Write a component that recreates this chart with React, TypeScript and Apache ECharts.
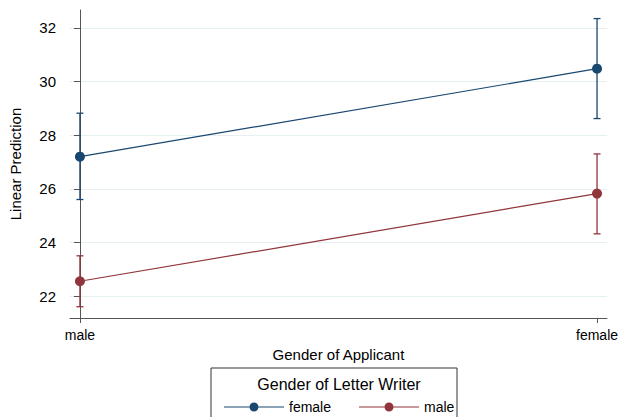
import React, { useEffect, useRef } from "react";
import * as echarts from "echarts";

const applicantGender = ["male", "female"];
const yTicks = [22, 24, 26, 28, 30, 32];
const femaleWriterMean = [27.2, 30.48];
const femaleWriterLow = [25.6, 28.62];
const femaleWriterHigh = [28.82, 32.35];
const maleWriterMean = [22.55, 25.82];
const maleWriterLow = [21.6, 24.32];
const maleWriterHigh = [23.5, 27.3];
const seriesNames = ["female", "male"];
const colors = ["#1a476f", "#90353b"];

const FONT = "Liberation Sans, Arial, Helvetica, sans-serif";

const legendIcon =
  "path://M0,4 H25.5 V5 H0 Z M34.5,4 H60 V5 H34.5 Z M25.5,4.5 A4.5,4.5 0 1,0 34.5,4.5 A4.5,4.5 0 1,0 25.5,4.5 Z";

function errorBarSeries(name: string, low: number[], high: number[], color: string) {
  return {
    type: "custom",
    name: name + "-ci",
    silent: true,
    data: applicantGender.map((_, i) => [i, low[i], high[i]]),
    encode: { x: 0, y: [1, 2] },
    z: 1,
    renderItem: (params: any, api: any) => {
      const x = api.value(0);
      const lo = api.coord([x, api.value(1)]);
      const hi = api.coord([x, api.value(2)]);
      const hw = 3.5;
      const style = { stroke: color, lineWidth: 1.3 };
      return {
        type: "group",
        children: [
          { type: "line", shape: { x1: lo[0], y1: lo[1], x2: hi[0], y2: hi[1] }, style },
          { type: "line", shape: { x1: lo[0] - hw, y1: lo[1], x2: lo[0] + hw, y2: lo[1] }, style },
          { type: "line", shape: { x1: hi[0] - hw, y1: hi[1], x2: hi[0] + hw, y2: hi[1] }, style },
        ],
      };
    },
  };
}

function lineSeries(name: string, mean: number[], color: string) {
  return {
    type: "line",
    name,
    data: applicantGender.map((_, i) => [i, mean[i]]),
    symbol: "circle",
    symbolSize: 10,
    itemStyle: { color },
    lineStyle: { color, width: 1.2 },
    z: 2,
  };
}

export default function App() {
  const ref = useRef<HTMLDivElement>(null);
  useEffect(() => {
    if (!ref.current) return;
    const chart = echarts.init(ref.current, undefined, { renderer: "svg" });
    chart.setOption({
      animation: false,
      backgroundColor: "#ffffff",
      textStyle: { fontFamily: FONT },
      grid: { left: 68, right: 13, top: 10, bottom: 99, containLabel: false },
      xAxis: {
        type: "value",
        min: -0.0192,
        max: 1.0192,
        name: "Gender of Applicant",
        nameLocation: "middle",
        nameGap: 27,
        nameTextStyle: { fontSize: 15, color: "#000", fontFamily: FONT },
        axisLine: { show: true, lineStyle: { color: "#555", width: 1 } },
        axisTick: { show: true, length: 5, customValues: [0, 1], lineStyle: { color: "#555" } },
        axisLabel: {
          customValues: [0, 1],
          formatter: (v: number) => applicantGender[Math.round(v)] ?? "",
          fontSize: 14,
          color: "#000",
          margin: 10,
          fontFamily: FONT,
        },
        splitLine: { show: false },
      },
      yAxis: {
        type: "value",
        min: 21.18,
        max: 32.67,
        name: "Linear Prediction",
        nameLocation: "middle",
        nameGap: 47,
        nameTextStyle: { fontSize: 15, color: "#000", fontFamily: FONT },
        axisLine: { show: true, lineStyle: { color: "#555", width: 1 } },
        axisTick: { show: true, length: 6, customValues: yTicks, lineStyle: { color: "#555" } },
        axisLabel: { customValues: yTicks, fontSize: 15, color: "#000", margin: 14, fontFamily: FONT },
        splitLine: { show: true, lineStyle: { color: "#e6f0f2", width: 1 } },
      },
      legend: {
        data: seriesNames,
        left: 219,
        top: 395,
        icon: legendIcon,
        itemWidth: 60,
        itemHeight: 9,
        itemGap: 28,
        textStyle: { fontSize: 14, color: "#000", fontFamily: FONT },
        selectedMode: false,
      },
      graphic: [
        {
          type: "rect",
          shape: { x: 211, y: 368, width: 246, height: 60 },
          style: { fill: "none", stroke: "#333", lineWidth: 1 },
          z: -1,
        },
        {
          type: "text",
          x: 339,
          y: 384,
          style: {
            text: "Gender of Letter Writer",
            fontSize: 16,
            fill: "#000",
            fontFamily: FONT,
            align: "center",
            verticalAlign: "middle",
          },
        },
      ],
      series: [
        errorBarSeries(seriesNames[0], femaleWriterLow, femaleWriterHigh, colors[0]),
        errorBarSeries(seriesNames[1], maleWriterLow, maleWriterHigh, colors[1]),
        lineSeries(seriesNames[0], femaleWriterMean, colors[0]),
        lineSeries(seriesNames[1], maleWriterMean, colors[1]),
      ],
    });
    return () => chart.dispose();
  }, []);
  return (
    <div
      ref={ref}
      style={{ position: "absolute", left: 0, top: 0, width: 621, height: 417 }}
    />
  );
}
